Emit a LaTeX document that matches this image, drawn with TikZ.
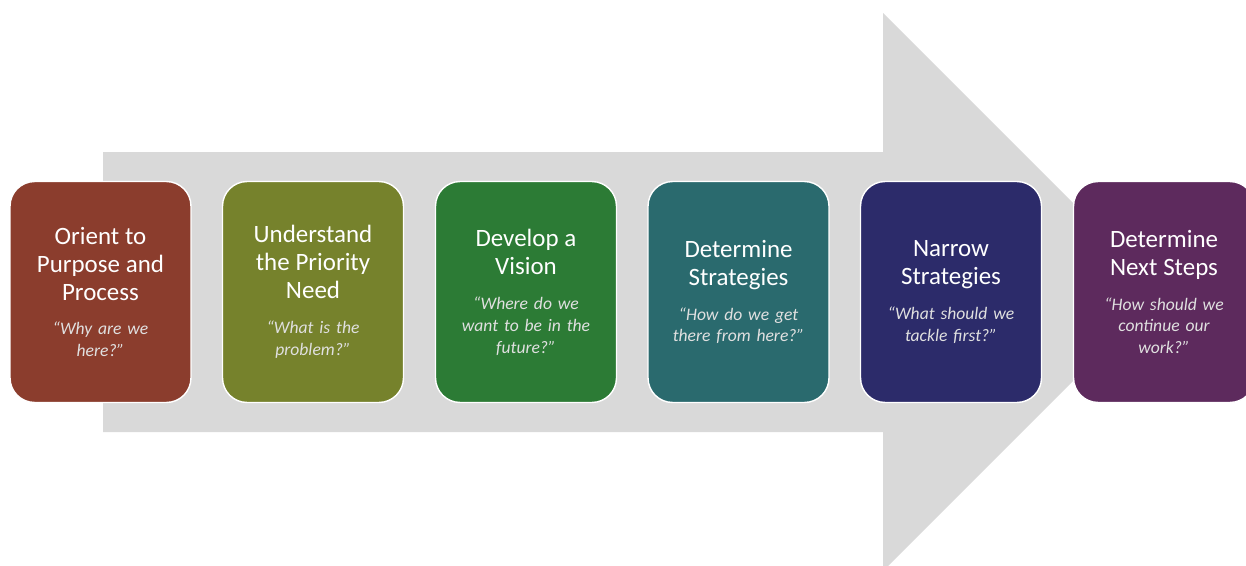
\documentclass[tikz,border=0pt]{standalone}
\usepackage{fontspec}
\setmainfont{Carlito}
\definecolor{arrowgrey}{HTML}{D9D9D9}
\definecolor{orientred}{HTML}{8B3D2D}
\definecolor{needolive}{HTML}{76822C}
\definecolor{visiongreen}{HTML}{2C7B35}
\definecolor{stratteal}{HTML}{2A6A6E}
\definecolor{narrownavy}{HTML}{2C2B6A}
\definecolor{nextpurple}{HTML}{5D2A5D}
\newcommand{\stagetext}[2]{{\fontsize{14.2}{15.9}\selectfont #1\par}\vspace{7.4pt}{\fontsize{10}{12.5}\selectfont\itshape\color{white!88!black} #2\par}}
\begin{document}
\begin{tikzpicture}[x=0.02cm,y=-0.02cm,
	stage/.style={draw=white, line width=0.8pt, rounded corners=14pt, minimum width=3.62cm, minimum height=4.42cm, align=center, text width=3.4cm, inner sep=0pt, text=white}]
	\useasboundingbox (0,0) rectangle (1246,565);
	\clip (0,0) rectangle (1246,565);
	% big arrow behind the stages
	\fill [arrowgrey] (103,152) -- (883,152) -- (883,13) -- (1162,292) -- (883,571) -- (883,432) -- (103,432) -- cycle;
	\node [stage, fill=orientred] (orient) at (100.5,292) {\stagetext{Orient to\\Purpose and\\Process}{“Why are we\\here?”}};
	\node [stage, fill=needolive] (need) at (313,292) {\stagetext{Understand\\the Priority\\Need}{“What is the\\problem?”}};
	\node [stage, fill=visiongreen] (vision) at (526,292) {\stagetext{Develop a\\Vision}{“Where do we\\want to be in the\\future?”}};
	\node [stage, fill=stratteal] (strat) at (738.5,292) {\stagetext{Determine\\Strategies}{“How do we get\\there from here?”}};
	\node [stage, fill=narrownavy] (narrow) at (951,292) {\stagetext{Narrow\\Strategies}{“What should we\\tackle first?”}};
	\node [stage, fill=nextpurple] (next) at (1164,292) {\stagetext{Determine\\Next Steps}{“How should we\\continue our\\work?”}};
\end{tikzpicture}
\end{document}
